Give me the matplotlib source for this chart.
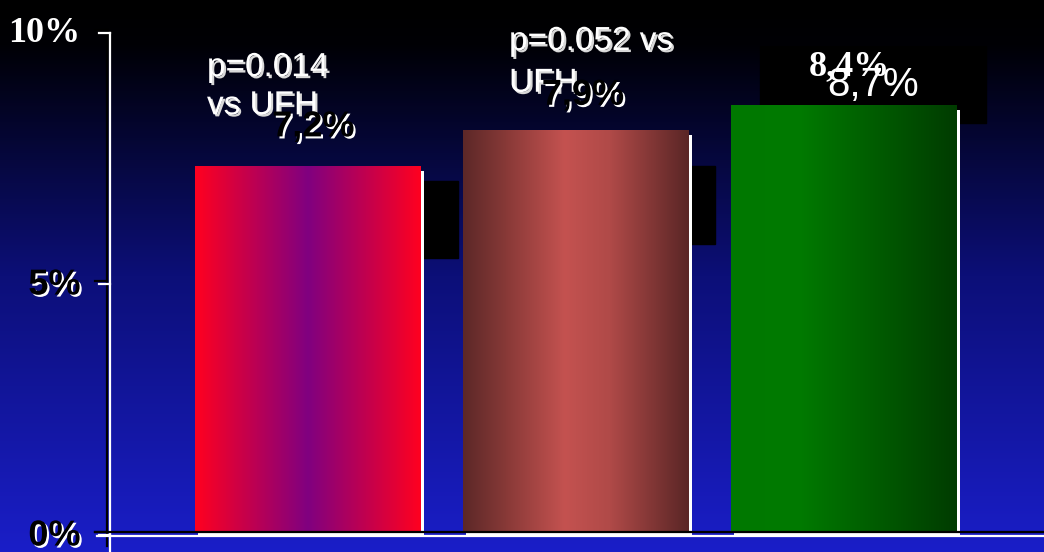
#!/usr/bin/env python3
"""Bar chart on a dark-to-blue slide background, three gradient bars."""
import numpy as np
import matplotlib
matplotlib.use("Agg")
import matplotlib.pyplot as plt
import matplotlib.patheffects as pe
from matplotlib.colors import LinearSegmentedColormap
from matplotlib.patches import Rectangle

# data
groups = ["bar 1", "bar 2", "bar 3"]
heights = [7.3, 8.0, 8.5]
value_labels = ["7,2%", "7,9%", "8,7%"]
extra_label = "8,4%"
p_labels = ["p=0.014\nvs UFH", "p=0.052 vs\nUFH"]
yticks = [0, 5, 10]
ytick_labels = ["0%", "5%", "10%"]

# horizontal gradient stops for each bar (position, colour)
bar_grads = [
    [(0.0, "#ff0020"), (0.5, "#800080"), (1.0, "#ff0020")],
    [(0.0, "#5c2828"), (0.2, "#8a3a38"), (0.45, "#c45250"), (0.65, "#b04a48"), (1.0, "#5a2626")],
    [(0.0, "#007800"), (0.3, "#007a00"), (1.0, "#003c00")],
]

fig = plt.figure(figsize=(10.44, 5.52), dpi=100)

# slide background: black at top, blue at bottom
bg = fig.add_axes([0, 0, 1, 1], zorder=-10)
bg_cmap = LinearSegmentedColormap.from_list(
    "bg", [(0.0, "#000000"), (0.08, "#000005"), (0.5, "#0c0f78"), (1.0, "#1a1ec8")])
bg.imshow(np.linspace(0, 1, 256).reshape(-1, 1), aspect="auto", cmap=bg_cmap,
          extent=(0, 1, 1, 0))
bg.set_axis_off()

ax = fig.add_axes([107 / 1044, 20 / 552, 937 / 1044, 502 / 552])
ax.set_facecolor("none")
for s in ax.spines.values():
    s.set_visible(False)
ax.set_xticks([])

px_x = 1 / 268.0   # one pixel in x data units
px_y = 10 / 502.0  # one pixel in y data units
x = np.arange(len(groups))
width = 0.843

# black leftover label boxes behind the bars
ax.add_patch(Rectangle((0.42, 5.46), 0.14, 1.53, color="black", zorder=1))
ax.add_patch(Rectangle((1.425, 5.74), 0.094, 1.55, color="black", zorder=1))
ax.add_patch(Rectangle((1.687, 8.15), 0.843, 1.53, color="black", zorder=1))

# white drop shadows of the bars
ax.bar(x + 3 * px_x, heights, width=width, bottom=-5 * px_y, color="white",
       zorder=2, clip_on=False)
bars = ax.bar(x, heights, width=width, color="none", zorder=3)
for rect, stops in zip(bars, bar_grads):
    cmap = LinearSegmentedColormap.from_list("g", stops)
    x0, w, h = rect.get_x(), rect.get_width(), rect.get_height()
    im = ax.imshow(np.linspace(0, 1, 256).reshape(1, -1), aspect="auto", cmap=cmap,
                   extent=(x0, x0 + w, 0, h), zorder=3)
    im.set_clip_path(rect)
ax.set_aspect("auto")
ax.set_xlim(-0.75, 2.746)
ax.set_ylim(0, 10)

# axis lines: black with a white offset copy
xl = ax.get_xlim()[0]
ax.plot([xl, xl], [-0.27, 10], color="black", lw=1.6, clip_on=False, zorder=4)
ax.plot([xl + 3 * px_x, xl + 3 * px_x], [-0.4, 10 - 3 * px_y], color="white", lw=1.6,
        clip_on=False, zorder=4)
ax.plot([xl - 12 * px_x, 2.746], [0, 0], color="black", lw=1.6, clip_on=False, zorder=4)
ax.plot([xl - 10 * px_x, 2.746], [-4 * px_y, -4 * px_y], color="white", lw=1.6,
        clip_on=False, zorder=4)
for t in yticks:
    ax.plot([xl - 12 * px_x, xl], [t, t], color="black", lw=1.6, clip_on=False, zorder=4)
    ax.plot([xl - 8 * px_x, xl + 3 * px_x], [t - 3 * px_y, t - 3 * px_y], color="white",
            lw=1.6, clip_on=False, zorder=4)

# tick labels
ax.set_yticks(yticks)
ax.set_yticklabels(ytick_labels)
ax.tick_params(axis="y", length=0, pad=19)
shadow_w = [pe.SimplePatchShadow(offset=(1.5, -1.5), shadow_rgbFace="white", alpha=1), pe.Normal()]
for lab in ax.get_yticklabels():
    if lab.get_text() == "10%":
        lab.set_fontfamily("Liberation Serif")
        lab.set_fontweight("bold")
        lab.set_fontsize(26)
        lab.set_color("white")
    else:
        lab.set_fontfamily("Liberation Sans")
        lab.set_fontweight("bold")
        lab.set_fontsize(26)
        lab.set_color("black")
        lab.set_path_effects(shadow_w)

# p-value notes
shadow_g = [pe.SimplePatchShadow(offset=(1.5, -1.5), shadow_rgbFace="#d8d8d8", alpha=1), pe.Normal()]
ax.text(-0.377, 9.56, p_labels[0], color="white", fontsize=24, family="Liberation Sans",
        va="top", ha="left", linespacing=1.3, path_effects=shadow_g, zorder=6)
ax.text(0.75, 10.08, p_labels[1], color="white", fontsize=24, family="Liberation Sans",
        va="top", ha="left", linespacing=1.45, path_effects=shadow_g, zorder=6)

# value labels
ax.text(0.02, 8.07, value_labels[0], color="black", fontsize=26, weight="bold",
        family="Liberation Sans", ha="center", va="center", path_effects=shadow_w, zorder=7)
ax.text(1.026, 8.70, value_labels[1], color="black", fontsize=26, weight="bold",
        family="Liberation Sans", ha="center", va="center", path_effects=shadow_w, zorder=7)
ax.text(2.02, 9.28, extra_label, color="white", fontsize=26, weight="bold",
        family="Liberation Serif", ha="center", va="center", zorder=6)
ax.text(2.11, 8.9, value_labels[2], color="white", fontsize=29,
        family="Liberation Sans", ha="center", va="center", zorder=7)

fig.savefig("out.png", dpi=100)
